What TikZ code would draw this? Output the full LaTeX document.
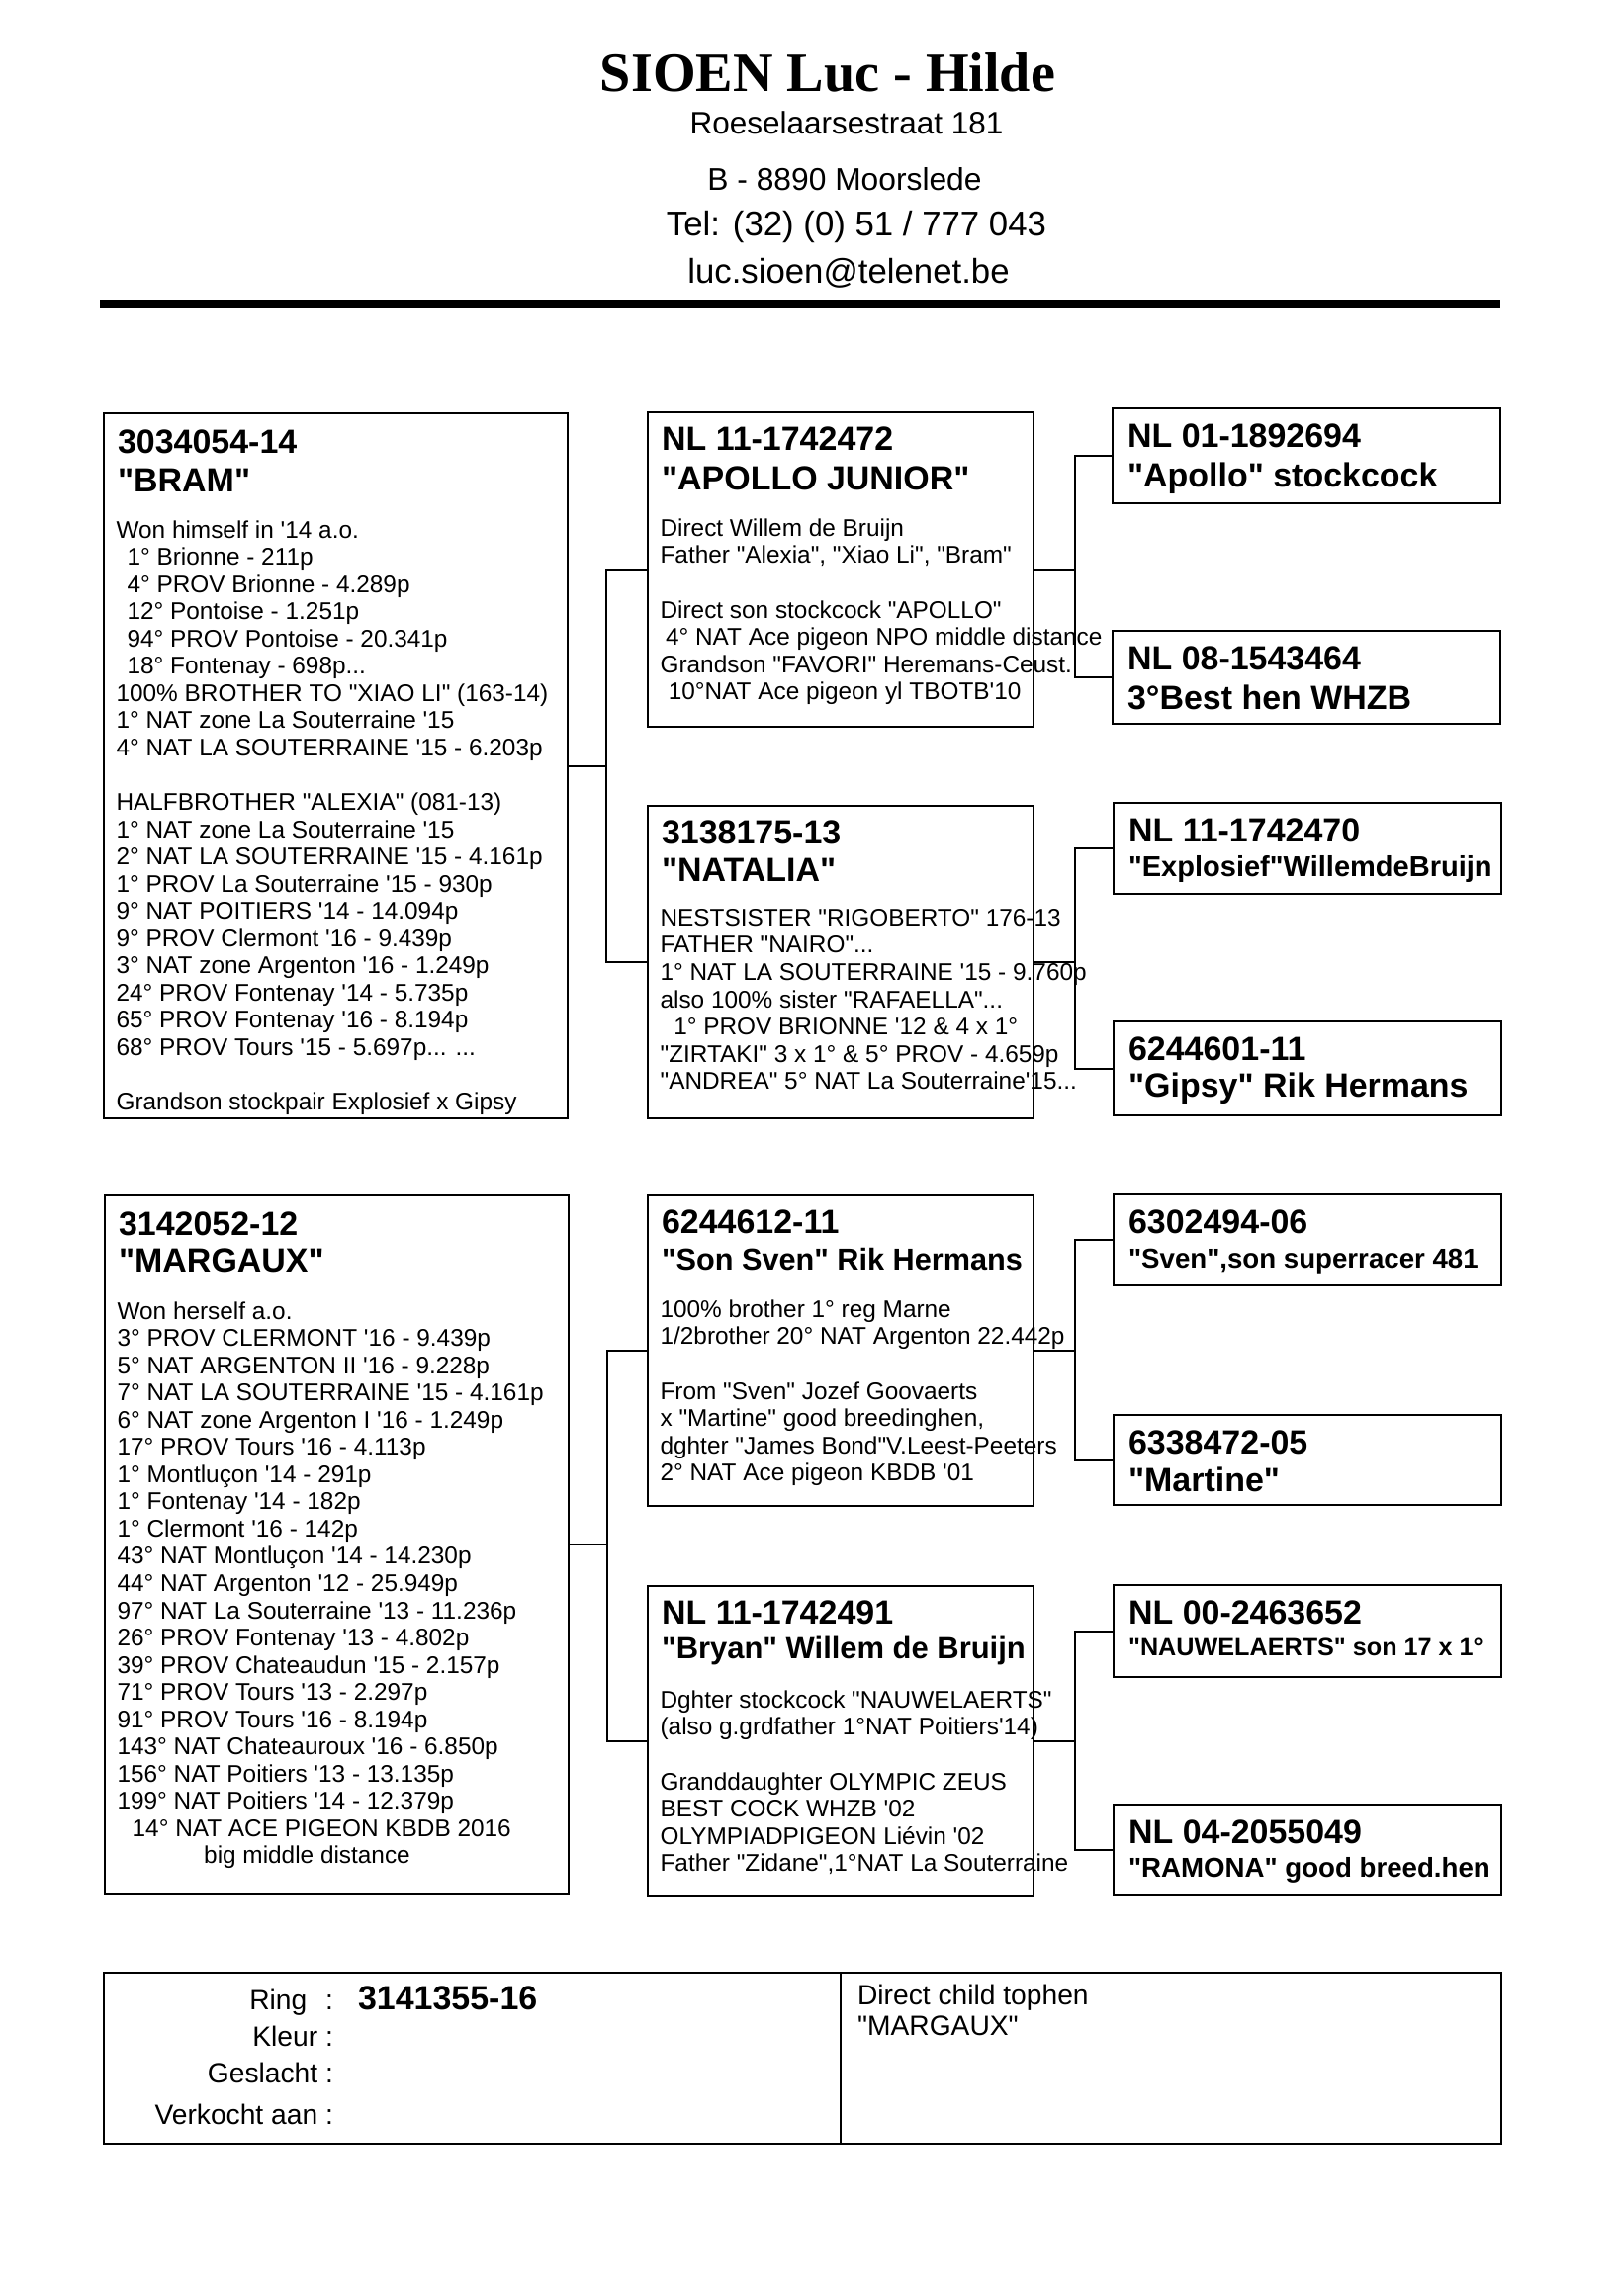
\documentclass[tikz,border=0pt]{standalone}
\usepackage{fontspec}
\newfontfamily\arial{Liberation Sans}
\newfontfamily\romanfont{Liberation Serif}
\usetikzlibrary{positioning}
\newcommand\pix{0.3652pt}

\begin{document}
\begin{tikzpicture}[x=0.3652pt,y=-0.3652pt,line width=0.8pt,
  pedbox/.style={draw,anchor=north west,inner sep=0pt},
  parentbox/.style={pedbox,minimum width=469*\pix,minimum height=#1*\pix},
  grandbox/.style={pedbox,minimum width=390*\pix,minimum height=#1*\pix},
  greatbox/.style={pedbox,minimum width=392*\pix,minimum height=#1*\pix},
  ringno/.style={anchor=base west,inner sep=0pt,font=\arial\bfseries\fontsize{12.4}{14}\selectfont},
  birdname/.style={anchor=base west,inner sep=0pt,font=\arial\bfseries\fontsize{#1}{14}\selectfont},
  birdname/.default=12.4,
  notes/.style={anchor=north west,inner sep=0pt,align=left,font=\arial\fontsize{8.9}{10.06}\selectfont},
  address/.style={anchor=base,inner sep=0pt,font=\arial\fontsize{#1}{15}\selectfont},
  formtext/.style={inner sep=0pt,font=\arial\fontsize{10.3}{12}\selectfont}]
  \useasboundingbox (0,0) rectangle (1636,2322);

  % header: loft and address
  \node[anchor=base,inner sep=0pt,font=\romanfont\bfseries\fontsize{20.5}{24}\selectfont] (loft) at (837,92) {SIOEN Luc - Hilde};
  \node[address=11.5] (street) at (856,135) {Roeselaarsestraat 181};
  \node[address=11.6] (town) at (854,192) {B - 8890 Moorslede};
  \node[address=12.7] (phone) at (866,238) {Tel: (32) (0) 51 / 777 043};
  \node[address=12.7] (mail) at (858,286) {luc.sioen@telenet.be};
  \draw[line width=3pt] (101,307) -- (1517,307);

  % parents
  \node[parentbox=713] (bram) at (104,417) {};
  \node[parentbox=706] (margaux) at (105,1208) {};
  % grandparents
  \node[grandbox=318] (apollo) at (654,416) {};
  \node[grandbox=316] (natalia) at (654,814) {};
  \node[grandbox=314] (sonsven) at (654,1208) {};
  \node[grandbox=313] (bryan) at (654,1603) {};
  % great-grandparents
  \node[greatbox=96] (apollosr) at (1124,412) {};
  \node[greatbox=94] (whzb) at (1124,637) {};
  \node[greatbox=92] (explosief) at (1125,811) {};
  \node[greatbox=95] (gipsy) at (1125,1032) {};
  \node[greatbox=92] (sven) at (1125,1207) {};
  \node[greatbox=91] (martine) at (1125,1430) {};
  \node[greatbox=93] (nauwelaerts) at (1125,1602) {};
  \node[greatbox=91] (ramona) at (1125,1824) {};

  % brackets
  \foreach \a/\b/\c in {bram/apollo/natalia,margaux/sonsven/bryan}{
    \draw (\a.east) -- ++(38,0) |- (\b.west);
    \draw (\a.east) -- ++(38,0) |- (\c.west);}
  \foreach \a/\b/\c in {apollo/apollosr/whzb,natalia/explosief/gipsy,sonsven/sven/martine,bryan/nauwelaerts/ramona}{
    \draw (\a.east) -- ++(41,0) |- (\b.west);
    \draw (\a.east) -- ++(41,0) |- (\c.west);}

  % father
  \node[ringno] (bram-ring) at ([shift={(14,41)}]bram.north west) {3034054-14};
  \node[birdname] (bram-name) at ([shift={(14,80)}]bram.north west) {"BRAM"};
  \node[notes] (bram-notes) at ([shift={(12.5,106.6)}]bram.north west) {\strut Won himself in '14 a.o.\\
    \hspace*{4pt}1° Brionne - 211p\\
    \hspace*{4pt}4° PROV Brionne - 4.289p\\
    \hspace*{4pt}12° Pontoise - 1.251p\\
    \hspace*{4pt}94° PROV Pontoise - 20.341p\\
    \hspace*{4pt}18° Fontenay - 698p...\\
    100\% BROTHER TO "XIAO LI" (163-14)\\
    1° NAT zone La Souterraine '15\\
    4° NAT LA SOUTERRAINE '15 - 6.203p\\[10.06pt]
    HALFBROTHER "ALEXIA" (081-13)\\
    1° NAT zone La Souterraine '15\\
    2° NAT LA SOUTERRAINE '15 - 4.161p\\
    1° PROV La Souterraine '15 - 930p\\
    9° NAT POITIERS '14 - 14.094p\\
    9° PROV Clermont '16 - 9.439p\\
    3° NAT zone Argenton '16 - 1.249p\\
    24° PROV Fontenay '14 - 5.735p\\
    65° PROV Fontenay '16 - 8.194p\\
    68° PROV Tours '15 - 5.697p... ...\\[10.06pt]
    Grandson stockpair Explosief x Gipsy};

  % mother
  \node[ringno] (margaux-ring) at ([shift={(14,41)}]margaux.north west) {3142052-12};
  \node[birdname] (margaux-name) at ([shift={(14,78)}]margaux.north west) {"MARGAUX"};
  \node[notes] (margaux-notes) at ([shift={(12.5,105.6)}]margaux.north west) {\strut Won herself a.o.\\
    3° PROV CLERMONT '16 - 9.439p\\
    5° NAT ARGENTON II '16 - 9.228p\\
    7° NAT LA SOUTERRAINE '15 - 4.161p\\
    6° NAT zone Argenton I '16 - 1.249p\\
    17° PROV Tours '16 - 4.113p\\
    1° Montluçon '14 - 291p\\
    1° Fontenay '14 - 182p\\
    1° Clermont '16 - 142p\\
    43° NAT Montluçon '14 - 14.230p\\
    44° NAT Argenton '12 - 25.949p\\
    97° NAT La Souterraine '13 - 11.236p\\
    26° PROV Fontenay '13 - 4.802p\\
    39° PROV Chateaudun '15 - 2.157p\\
    71° PROV Tours '13 - 2.297p\\
    91° PROV Tours '16 - 8.194p\\
    143° NAT Chateauroux '16 - 6.850p\\
    156° NAT Poitiers '13 - 13.135p\\
    199° NAT Poitiers '14 - 12.379p\\
    \hspace*{5.5pt}14° NAT ACE PIGEON KBDB 2016\\
    \hspace*{32pt}big middle distance};

  % grandparents, text
  \node[ringno] (apollo-ring) at ([shift={(14,39)}]apollo.north west) {NL 11-1742472};
  \node[birdname] (apollo-name) at ([shift={(14,79)}]apollo.north west) {"APOLLO JUNIOR"};
  \node[notes] (apollo-notes) at ([shift={(12.5,106)}]apollo.north west) {\strut Direct Willem de Bruijn\\
    Father "Alexia", "Xiao Li", "Bram"\\[10.06pt]
    Direct son stockcock "APOLLO"\\
    \hspace*{2pt}4° NAT Ace pigeon NPO middle distance\\
    Grandson "FAVORI" Heremans-Ceust.\\
    \hspace*{3pt}10°NAT Ace pigeon yl TBOTB'10};

  \node[ringno] (natalia-ring) at ([shift={(14,39)}]natalia.north west) {3138175-13};
  \node[birdname] (natalia-name) at ([shift={(14,77)}]natalia.north west) {"NATALIA"};
  \node[notes] (natalia-notes) at ([shift={(12.5,102)}]natalia.north west) {\strut NESTSISTER "RIGOBERTO" 176-13\\
    FATHER "NAIRO"...\\
    1° NAT LA SOUTERRAINE '15 - 9.760p\\
    also 100\% sister "RAFAELLA"...\\
    \hspace*{5pt}1° PROV BRIONNE '12 \& 4 x 1°\\
    "ZIRTAKI" 3 x 1° \& 5° PROV - 4.659p\\
    "ANDREA" 5° NAT La Souterraine'15...};

  \node[ringno] (sonsven-ring) at ([shift={(14,39)}]sonsven.north west) {6244612-11};
  \node[birdname=11.2] (sonsven-name) at ([shift={(14,76)}]sonsven.north west) {"Son Sven" Rik Hermans};
  \node[notes] (sonsven-notes) at ([shift={(12.5,104)}]sonsven.north west) {\strut 100\% brother 1° reg Marne\\
    1/2brother 20° NAT Argenton 22.442p\\[10.06pt]
    From "Sven" Jozef Goovaerts\\
    x "Martine" good breedinghen,\\
    dghter "James Bond"V.Leest-Peeters\\
    2° NAT Ace pigeon KBDB '01};

  \node[ringno] (bryan-ring) at ([shift={(14,39)}]bryan.north west) {NL 11-1742491};
  \node[birdname=11.3] (bryan-name) at ([shift={(14,74)}]bryan.north west) {"Bryan" Willem de Bruijn};
  \node[notes] (bryan-notes) at ([shift={(12.5,104)}]bryan.north west) {\strut Dghter stockcock "NAUWELAERTS"\\
    (also g.grdfather 1°NAT Poitiers'14)\\[10.06pt]
    Granddaughter OLYMPIC ZEUS\\
    BEST COCK WHZB '02\\
    OLYMPIADPIGEON Liévin '02\\
    Father "Zidane",1°NAT La Souterraine};

  % great-grandparents, text
  \foreach \n/\r/\s/\d/\t in {
      apollosr/NL 01-1892694/12.4/80/{"Apollo" stockcock},
      whzb/NL 08-1543464/12.4/80/{3°Best hen WHZB},
      explosief/NL 11-1742470/10.6/75/{"Explosief"WillemdeBruijn},
      gipsy/6244601-11/12.4/77/{"Gipsy" Rik Hermans},
      sven/6302494-06/10.1/75/{"Sven",son superracer 481},
      martine/6338472-05/12.4/78/{"Martine"},
      nauwelaerts/NL 00-2463652/9.2/72/{"NAUWELAERTS" son 17 x 1°},
      ramona/NL 04-2055049/10.1/74/{"RAMONA" good breed.hen}}{
    \node[ringno] (\n-ring) at ([shift={(15,40)}]\n.north west) {\r};
    \node[birdname=\s] (\n-name) at ([shift={(15,\d)}]\n.north west) {\t};}

  % sale form
  \node[pedbox,minimum width=1413*\pix,minimum height=173*\pix] (sale) at (104,1994) {};
  \draw ([xshift=746*\pix]sale.north west) -- ([xshift=746*\pix]sale.south west);
  \foreach \l/\y [count=\i] in {Ring\hspace{4pt} :/2032,Kleur :/2069,Geslacht :/2106,Verkocht aan :/2148}
    \node[formtext,anchor=base east] (field\i) at (338,\y) {\l};
  \node[ringno] (child) at (361,2032) {3141355-16};
  \node[formtext,anchor=base west] (remark1) at (866,2027) {Direct child tophen};
  \node[formtext,anchor=base west] (remark2) at (866,2058) {"MARGAUX"};
\end{tikzpicture}
\end{document}
